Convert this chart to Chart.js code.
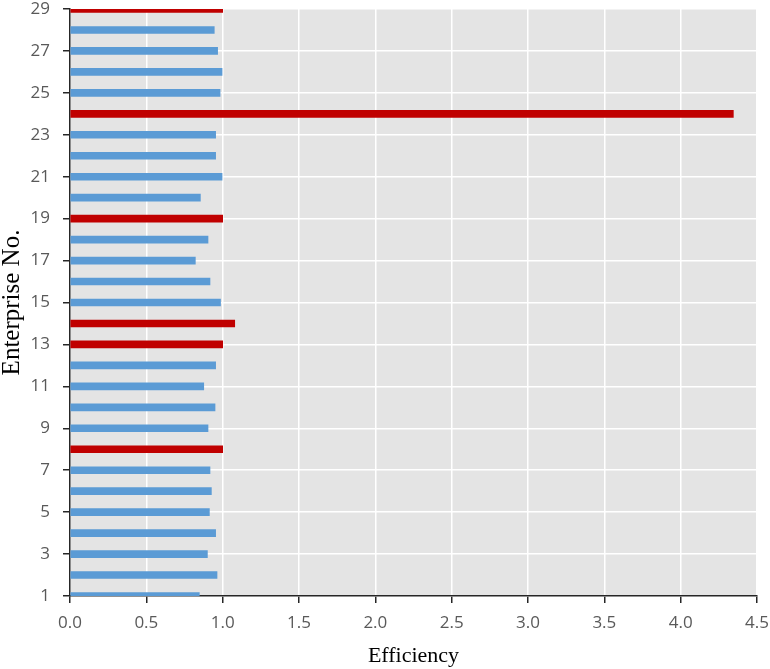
<!DOCTYPE html>
<html>
<head>
<meta charset="utf-8">
<title>Enterprise Efficiency</title>
<script src="https://cdn.jsdelivr.net/npm/chart.js@4.4.0/dist/chart.umd.min.js"></script>
<style>
  html, body { margin: 0; padding: 0; background: #ffffff; }
  #wrap { position: relative; width: 770px; height: 669px; }
</style>
</head>
<body>
<div id="wrap"><canvas id="myChart" width="770" height="669"></canvas></div>
<script>
// Chart data
const enterprises = [1, 2, 3, 4, 5, 6, 7, 8, 9, 10, 11, 12, 13, 14, 15,
  16, 17, 18, 19, 20, 21, 22, 23, 24, 25, 26, 27, 28, 29];
const efficiency = [0.847, 0.963, 0.900, 0.954, 0.913, 0.926, 0.917, 1.000, 0.904, 0.950,
  0.876, 0.954, 1.000, 1.079, 0.986, 0.917, 0.821, 0.904, 1.000, 0.854,
  0.996, 0.954, 0.954, 4.345, 0.983, 0.996, 0.967, 0.945, 1.000];
// Enterprises drawn in red (efficient ones)
const highlighted = [8, 13, 14, 19, 24, 29];
const xTicks = [0, 0.5, 1, 1.5, 2, 2.5, 3, 3.5, 4, 4.5];

const blue = '#5B9BD5';
const red = '#C00000';
const tickFont = { family: '"Open Sans", "Liberation Sans", sans-serif', size: 17 };
const serif = '"Liberation Serif", "Times New Roman", serif';

// Gray plot background behind the white grid
const plotBackground = {
  id: 'plotBackground',
  beforeDraw(chart) {
    const a = chart.chartArea;
    const ctx = chart.ctx;
    ctx.save();
    ctx.fillStyle = '#E4E4E4';
    ctx.fillRect(a.left, a.top, a.right - a.left, a.bottom - a.top);
    ctx.restore();
  }
};

function renderMyChart() {
  const points = enterprises.map(function(e, i) {
    return { x: efficiency[i], y: e };
  });
  const colors = enterprises.map(function(e) {
    return highlighted.indexOf(e) >= 0 ? red : blue;
  });

  const ctx = document.getElementById('myChart');
  new Chart(ctx, {
    type: 'bar',
    data: {
      datasets: [{
        data: points,
        backgroundColor: colors,
        borderWidth: 0,
        barThickness: 7,
        clip: 0
      }]
    },
    plugins: [plotBackground],
    options: {
      indexAxis: 'y',
      responsive: false,
      animation: false,
      layout: { padding: { top: 9, right: 13, left: 0, bottom: 0 } },
      plugins: {
        legend: { display: false },
        tooltip: { enabled: false }
      },
      scales: {
        x: {
          type: 'linear',
          min: 0,
          max: 4.5,
          afterBuildTicks: function(scale) {
            scale.ticks = xTicks.map(function(v) { return { value: v }; });
          },
          afterFit: function(scale) {
            scale.height = 73;
            scale.paddingRight = 13;
            scale.paddingLeft = 0;
          },
          ticks: {
            font: tickFont,
            color: '#595959',
            padding: 10,
            maxRotation: 0,
            callback: function(v) { return Number(v).toFixed(1); }
          },
          grid: {
            color: '#FFFFFF',
            lineWidth: 1.5,
            tickLength: 7,
            tickColor: '#262626',
            tickWidth: 1.5
          },
          border: { display: true, color: '#262626', width: 1.5 },
          title: {
            display: true,
            text: 'Efficiency',
            font: { family: serif, size: 22 },
            color: '#000000',
            padding: 0
          }
        },
        y: {
          type: 'linear',
          min: 1,
          max: 29,
          offset: false,
          afterBuildTicks: function(scale) {
            scale.ticks = enterprises.map(function(v) { return { value: v }; });
          },
          afterFit: function(scale) {
            scale.width = 70;
            scale.paddingTop = 9;
            scale.paddingBottom = 0;
          },
          ticks: {
            font: tickFont,
            color: '#595959',
            padding: 13,
            // only odd enterprise numbers get a label
            callback: function(v) { return v % 2 === 1 ? String(v) : ''; }
          },
          grid: {
            offset: false,
            color: '#FFFFFF',
            lineWidth: 1.5,
            tickLength: 7,
            tickColor: '#262626',
            tickWidth: 1.5
          },
          border: { display: true, color: '#262626', width: 1.5 },
          title: {
            display: true,
            text: 'Enterprise No.',
            font: { family: serif, size: 25, lineHeight: 1 },
            color: '#000000',
            padding: 0
          }
        }
      }
    }
  });
}

window.onload = function() {
  renderMyChart();
};
</script>
</body>
</html>
